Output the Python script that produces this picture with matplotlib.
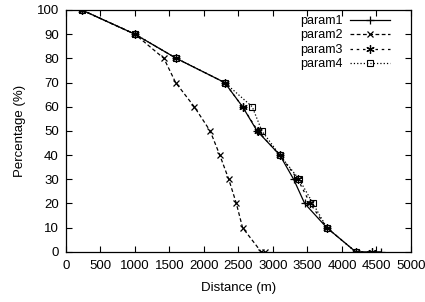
import matplotlib
matplotlib.use("Agg")
import matplotlib.pyplot as plt

# data
pct = [100, 90, 80, 70, 60, 50, 40, 30, 20, 10, 0, 0]
param1 = [230, 1000, 1600, 2300, 2560, 2770, 3100, 3300, 3460, 3780, 4200, 4560]
param2 = [230, 1000, 1420, 1590, 1860, 2090, 2230, 2360, 2470, 2560, 2830, 2880]
param3 = [230, 1000, 1600, 2300, 2560, 2780, 3100, 3360, 3540, 3780, 4200, 4430]
param4 = [230, 1000, 1600, 2300, 2700, 2840, 3100, 3380, 3580, 3780, 4200]
labels = ["param1", "param2", "param3", "param4"]

plt.rcParams["font.family"] = ["Liberation Sans", "DejaVu Sans"]
plt.rcParams["font.size"] = 9.5

fig = plt.figure(figsize=(4.25, 3.02), dpi=100)
ax = fig.add_axes([0.155, 0.166, 0.812, 0.801])

ax.plot(param1, pct, "-", color="black", lw=0.9, marker="+", ms=6, mew=0.9, label=labels[0])
ax.plot(param2, pct, "--", color="black", lw=0.9, marker="x", ms=5, mew=0.9,
        dashes=(3, 2), label=labels[1])
ax.plot(param3, pct, color="black", lw=0.9, marker=(6, 2, 0), ms=6, mew=0.9,
        dashes=(2, 3), label=labels[2])
ax.plot(param4, pct[:len(param4)], ":", color="black", lw=0.9, marker="s",
        ms=5, mew=0.8, fillstyle="none", label=labels[3])

ax.set_xlim(0, 5000)
ax.set_ylim(0, 100)
ax.set_xticks(range(0, 5001, 500))
ax.set_yticks(range(0, 101, 10))
ax.tick_params(direction="in", top=True, right=True, length=4, width=0.8)
ax.tick_params(axis="x", pad=6)
ax.tick_params(axis="y", pad=5)
for s in ax.spines.values():
    s.set_linewidth(0.9)

ax.set_xlabel("Distance (m)", labelpad=7)
ax.set_ylabel("Percentage (%)", labelpad=8)

ax.legend(loc="upper right", frameon=False, markerfirst=False, handlelength=3.2,
          handletextpad=0.6, labelspacing=0.2, borderaxespad=0.0, fontsize=9,
          bbox_to_anchor=(0.955, 1.0))

fig.savefig("out.png", dpi=100)
